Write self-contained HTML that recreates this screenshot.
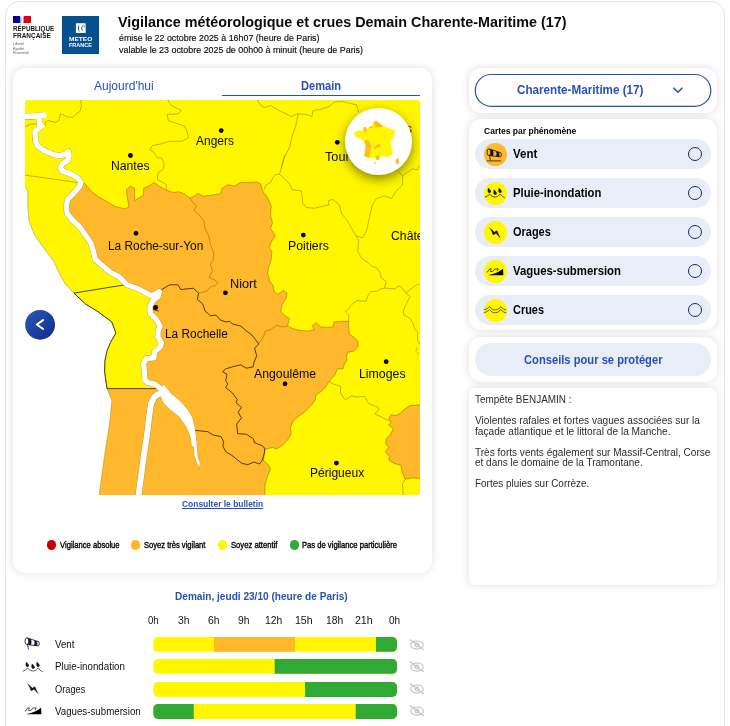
<!DOCTYPE html>
<html lang="fr"><head><meta charset="utf-8"><title>Vigilance</title>
<style>
html,body{margin:0;padding:0;background:#fff;width:730px;height:726px;overflow:hidden;}
body{position:relative;font-family:"Liberation Sans", sans-serif;}
#w{position:absolute;left:0;top:0;width:730px;height:726px;overflow:hidden;}
.t{position:absolute;white-space:nowrap;line-height:1;}
.abs{position:absolute;}
.card{position:absolute;background:#fff;border-radius:12px;box-shadow:0 0 9px rgba(0,0,0,.13);}
.pill{position:absolute;background:#e8edf7;border-radius:16px;}
.dot{position:absolute;border-radius:50%;}
.bar{position:absolute;left:153px;width:244.5px;height:14.6px;border-radius:6px;overflow:hidden;background:#fff600;}
.bar i{position:absolute;top:0;height:100%;}
</style></head><body><div id="w">
<div class="abs" style="left:5px;top:1px;width:718px;height:760px;border:1.4px solid #e4e4e4;border-radius:14px;"></div>

<div class="abs" style="left:13px;top:15.9px;width:7.4px;height:6.9px;background:#000091;"></div>
<div class="abs" style="left:23.9px;top:15.9px;width:7.2px;height:6.9px;background:#e1000f;"></div>
<svg class="abs" style="left:19px;top:15.9px" width="7" height="7" viewBox="0 0 7 7"><path d="M1.4 0 Q3 1.5 2.2 3.5 Q1.6 5.2 2.6 6.9 L1.4 6.9 Z" fill="#000091" opacity=".55"/><path d="M4.9 0 L4.9 6.9 L3.9 6.9 Q5 5 4.2 3.2 Q3.8 1.5 4.9 0Z" fill="#e1000f" opacity=".75"/><circle cx="2.3" cy="4" r=".9" fill="#9a9ad0" opacity=".7"/></svg>
<div class="abs" style="left:61.8px;top:15.9px;width:37.3px;height:38.1px;background:#05508f;"></div>
<svg class="abs" style="left:61.8px;top:15.9px" width="37.3" height="38.1" viewBox="61.8 15.9 37.3 38.1"><rect x="75.7" y="23.2" width="9.8" height="9.7" rx=".6" fill="#fff"/><path d="M83.2 24.6 A3.9 3.9 0 0 0 83.2 31.6 A6 6 0 0 1 83.2 24.6 Z" fill="#05508f"/><path d="M80.6 24.1 A4.3 4.3 0 0 0 80.6 32.2 A2.2 4.1 0 0 1 80.6 24.1Z" fill="#05508f"/><rect x="83.6" y="25.2" width=".7" height="2.2" fill="#05508f"/></svg>

<span class="t" style="left:13.00px;top:26px;font-size:6.4px;font-weight:700;color:#161616;transform:scaleX(0.9831);transform-origin:0 0;">RÉPUBLIQUE</span>
<span class="t" style="left:13.00px;top:33px;font-size:6.4px;font-weight:700;color:#161616;transform:scaleX(1.0139);transform-origin:0 0;">FRANÇAISE</span>
<span class="t" style="left:13.30px;top:43px;font-size:3.4px;font-weight:400;color:#555;transform:scaleX(1.0602);transform-origin:0 0;font-style:italic;">Liberté</span>
<span class="t" style="left:13.30px;top:48px;font-size:3.4px;font-weight:400;color:#555;transform:scaleX(1.0602);transform-origin:0 0;font-style:italic;">Égalité</span>
<span class="t" style="left:13.30px;top:52px;font-size:3.4px;font-weight:400;color:#555;transform:scaleX(1.1023);transform-origin:0 0;font-style:italic;">Fraternité</span>
<span class="t" style="left:68.70px;top:36px;font-size:6.2px;font-weight:700;color:#fff;transform:scaleX(1.0583);transform-origin:0 0;">METEO</span>
<span class="t" style="left:69.00px;top:42px;font-size:6.2px;font-weight:700;color:#fff;transform:scaleX(0.8921);transform-origin:0 0;">FRANCE</span>
<span class="t" style="left:118.30px;top:14px;font-size:15px;font-weight:700;color:#0a0a0a;transform:scaleX(0.9562);transform-origin:0 0;">Vigilance météorologique et crues Demain Charente-Maritime (17)</span>
<span class="t" style="left:118.50px;top:33px;font-size:9.6px;font-weight:400;color:#0a0a0a;transform:scaleX(0.9260);transform-origin:0 0;-webkit-text-stroke:.15px #0a0a0a;">émise le 22 octobre 2025 à 16h07 (heure de Paris)</span>
<span class="t" style="left:118.50px;top:45px;font-size:9.6px;font-weight:400;color:#0a0a0a;transform:scaleX(0.9280);transform-origin:0 0;-webkit-text-stroke:.15px #0a0a0a;">valable le 23 octobre 2025 de 00h00 à minuit (heure de Paris)</span>
<div class="card" style="left:13px;top:68px;width:418.5px;height:504.5px;"></div>
<span class="t" style="left:94.10px;top:80px;font-size:12px;font-weight:400;color:#2a50b8;transform:scaleX(1.0005);transform-origin:0 0;">Aujourd'hui</span>
<span class="t" style="left:300.90px;top:80px;font-size:12px;font-weight:700;color:#2a50b8;transform:scaleX(0.9225);transform-origin:0 0;">Demain</span>
<div class="abs" style="left:221.5px;top:94.6px;width:198.7px;height:1.4px;background:#2a50b8;"></div>
<div class="abs" style="left:25px;top:100px;width:395px;height:395px;border-radius:3px 3px 3px 0;overflow:hidden;background:#fff;">
<svg class="abs" style="left:0;top:0;" width="395" height="395" viewBox="25 100 395 395">
<rect x="25" y="100" width="395" height="395" fill="#fff600"/>
<path d="M84.2 182.8 L91.1 191.0 L98.0 196.5 L107.6 202.0 L114.5 206.2 L125.0 208.9 L129.1 206.9 L127.1 196.5 L126.4 189.6 L130.5 186.2 L134.6 188.3 L134.6 200.7 L138.8 197.9 L143.6 195.2 L143.6 188.3 L148.4 186.2 L153.9 182.5 L159.4 186.2 L166.3 190.3 L173.2 192.4 L178.7 191.7 L184.2 193.8 L189.7 197.9 L193.9 196.5 L198.0 193.3 L202.9 196.2 L212.5 195.0 L220.8 193.7 L222.2 188.2 L227.7 184.7 L234.6 186.1 L240.1 182.6 L248.4 182.6 L256.6 182.0 L260.8 184.0 L262.1 189.5 L264.2 193.8 L265.0 193.8 L268.4 199.3 L271.2 206.2 L270.5 215.8 L272.6 222.7 L270.5 228.2 L275.3 235.8 L271.2 242.0 L269.1 247.5 L271.9 251.6 L271.2 259.9 L268.4 268.2 L267.8 273.7 L269.7 281.3 L273.2 285.5 L273.9 291.0 L278.0 294.4 L283.5 290.3 L287.0 293.0 L286.3 297.9 L282.1 304.7 L280.8 311.6 L284.9 315.8 L289.4 318.5 L287.7 325.4 L291.9 328.2 L298.8 330.3 L308.4 331.0 L313.9 329.6 L312.5 325.5 L316.0 322.7 L320.8 326.9 L327.7 327.5 L333.2 326.9 L333.9 322.0 L340.1 321.3 L348.6 321.3 L348.6 327.5 L349.7 334.4 L353.9 337.2 L358.0 341.3 L358.0 346.8 L353.9 351.0 L347.7 352.3 L346.3 357.2 L347.0 359.9 L344.2 364.7 L342.9 368.9 L337.3 368.9 L335.3 374.4 L329.1 381.3 L324.9 388.2 L320.1 392.3 L316.0 395.0 L315.3 400.0 L311.0 405.5 L305.0 411.7 L300.0 415.2 L293.2 420.7 L290.4 427.5 L291.1 434.4 L287.6 439.9 L282.1 445.5 L276.6 448.9 L272.5 447.5 L267.0 448.9 L264.9 449.6 L263.5 460.6 L268.4 464.7 L270.4 468.9 L267.7 475.8 L264.9 485.4 L264.9 496.0 L98.9 496.0 L104.6 455.1 L109.7 422.6 L111.8 400.6 L107.0 388.6 L156.7 388.6 L160.1 388.2 L154.6 384.1 L147.7 382.7 L144.9 379.9 L144.3 371.7 L143.6 363.4 L146.3 358.6 L153.9 357.9 L154.6 351.7 L160.1 346.9 L161.5 342.6 L158.0 337.1 L158.0 331.6 L160.1 326.1 L156.0 319.2 L150.5 313.7 L149.8 307.5 L152.5 301.3 L158.0 296.5 L159.4 291.7 L151.8 295.8 L144.9 292.4 L136.7 288.2 L127.0 284.8 L118.7 276.4 L110.4 272.3 L102.1 265.4 L95.2 259.2 L93.9 253.0 L91.1 243.4 L85.6 235.1 L80.1 227.5 L71.8 219.3 L67.0 213.1 L66.3 206.2 L67.7 199.3 L74.6 192.4 L79.4 186.8 L80.8 182.6 Z" fill="#ffb82b"/>
<path d="M421.0 404.8 L410.1 405.5 L403.9 409.6 L399.7 413.8 L394.9 415.8 L391.5 414.5 L388.7 417.9 L390.8 422.7 L388.7 424.8 L393.5 428.9 L390.1 435.1 L386.0 439.3 L386.0 444.1 L388.7 447.5 L385.3 451.7 L389.4 456.5 L388.7 459.9 L394.2 463.4 L401.1 465.4 L401.8 471.6 L405.2 479.2 L412.1 477.8 L421.0 478.5 Z" fill="#ffb82b" stroke="rgba(90,60,0,.55)" stroke-width=".7"/>
<path d="M25.0 186.9 L27.8 191.0 L27.8 207.5 L29.1 221.3 L34.6 235.1 L44.3 248.9 L53.9 261.3 L58.1 271.0 L64.9 283.4 L73.9 293.1 L85.6 304.1 L98.0 311.7 L111.8 322.0 L115.9 333.0 L110.4 342.6 L107.0 350.9 L104.9 360.7 L104.6 371.7 L107.0 388.6 L111.8 400.6 L109.7 422.6 L104.6 455.1 L98.9 496.0 L24.0 496.0 L24.0 186.9 Z" fill="#fff"/>
<path d="M84.2 182.8 L91.1 191.0 L98.0 196.5 L107.6 202.0 L114.5 206.2 L125.0 208.9 L129.1 206.9 L127.1 196.5 L126.4 189.6 L130.5 186.2 L134.6 188.3 L134.6 200.7 L138.8 197.9 L143.6 195.2 L143.6 188.3 L148.4 186.2 L153.9 182.5 L159.4 186.2 L166.3 190.3 L173.2 192.4 L178.7 191.7 L184.2 193.8 L189.7 197.9 L193.9 196.5 L198.0 193.3 L202.9 196.2 L212.5 195.0 L220.8 193.7 L222.2 188.2 L227.7 184.7 L234.6 186.1 L240.1 182.6 L248.4 182.6 L256.6 182.0 L260.8 184.0 L262.1 189.5 L264.2 193.8 M265.0 193.8 L268.4 199.3 L271.2 206.2 L270.5 215.8 L272.6 222.7 L270.5 228.2 L275.3 235.8 L271.2 242.0 L269.1 247.5 L271.9 251.6 L271.2 259.9 L268.4 268.2 L267.8 273.7 L269.7 281.3 L273.2 285.5 L273.9 291.0 L278.0 294.4 L283.5 290.3 L287.0 293.0 L286.3 297.9 L282.1 304.7 L280.8 311.6 L284.9 315.8 L289.4 318.5 L287.7 325.4 L291.9 328.2 L298.8 330.3 L308.4 331.0 L313.9 329.6 L312.5 325.5 L316.0 322.7 L320.8 326.9 L327.7 327.5 L333.2 326.9 L333.9 322.0 L340.1 321.3 L348.6 321.3 L348.6 327.5 L349.7 334.4 L353.9 337.2 L358.0 341.3 L358.0 346.8 L353.9 351.0 L347.7 352.3 L346.3 357.2 L347.0 359.9 L344.2 364.7 L342.9 368.9 L337.3 368.9 L335.3 374.4 L329.1 381.3 L324.9 388.2 L320.1 392.3 L316.0 395.0 L315.3 400.0 L311.0 405.5 L305.0 411.7 L300.0 415.2 L293.2 420.7 L290.4 427.5 L291.1 434.4 L287.6 439.9 L282.1 445.5 L276.6 448.9 L272.5 447.5 L267.0 448.9 L264.9 449.6 L263.5 460.6 L268.4 464.7 L270.4 468.9 L267.7 475.8 L264.9 485.4 L264.9 496.0" fill="none" stroke="rgba(90,60,0,.5)" stroke-width=".7" stroke-linejoin="round"/>
<path d="M25.0 186.9 L27.8 191.0 L27.8 207.5 L29.1 221.3 L34.6 235.1 L44.3 248.9 L53.9 261.3 L58.1 271.0 L64.9 283.4 L73.9 293.1 L85.6 304.1 L98.0 311.7 L111.8 322.0 L115.9 333.0 L110.4 342.6 L107.0 350.9 L104.9 360.7 L104.6 371.7 L107.0 388.6 L111.8 400.6 L109.7 422.6 L104.6 455.1 L98.9 496.0" fill="none" stroke="rgba(90,80,0,.45)" stroke-width=".7"/>
<path d="M44.8 126.8 L45.2 122.3 L48.1 120.6 L55.5 122.3 L58.8 120.6 L60.5 114.0 L63.0 114.4 L66.3 116.9 L72.9 117.3 L77.0 113.2 L80.0 111.5 L81.5 105.5 L80.8 100.0" fill="none" stroke="rgba(80,60,0,.5)" stroke-width=".7" stroke-linejoin="round"/>
<path d="M25.0 126.8 L30.7 124.1 L36.4 123.9" fill="none" stroke="rgba(80,60,0,.5)" stroke-width=".7" stroke-linejoin="round"/>
<path d="M25.0 119.8 L36.1 118.4" fill="none" stroke="rgba(80,60,0,.5)" stroke-width=".7" stroke-linejoin="round"/>
<path d="M25.0 175.1 L78.0 182.6" fill="none" stroke="rgba(80,60,0,.5)" stroke-width=".7" stroke-linejoin="round"/>
<path d="M167.7 100.0 L171.1 105.5 L181.4 110.3 L178.0 113.8 L167.0 114.5 L168.4 120.7 L176.6 123.4 L184.9 126.2 L187.6 133.1 L188.3 137.9 L182.1 141.3 L169.7 141.3 L160.1 144.1 L152.5 145.5 L149.8 149.6 L153.9 152.3 L157.3 157.9 L161.5 157.9 L164.2 163.4 L163.5 168.9 L158.0 173.0 L157.3 179.2 L162.9 182.6 L166.3 184.6 L166.3 190.3" fill="none" stroke="rgba(80,60,0,.5)" stroke-width=".7" stroke-linejoin="round"/>
<path d="M189.7 197.9 L192.5 202.0 L196.6 206.2 L193.9 210.3 L200.1 215.8 L204.2 221.3 L204.9 228.2 L209.0 236.5 L210.4 244.7 L213.8 253.0 L213.2 259.9 L210.4 264.0 L212.5 270.9 L209.1 277.2 L214.6 279.9 L218.1 282.7 L215.3 285.5 L210.5 286.8 L207.1 291.0 L198.7 293.1" fill="none" stroke="rgba(80,60,0,.5)" stroke-width=".7" stroke-linejoin="round"/>
<path d="M287.6 326.1 L282.1 326.8 L276.6 325.4 L269.7 330.2 L265.6 330.9 L263.5 336.4 L258.7 344.1" fill="none" stroke="rgba(80,60,0,.5)" stroke-width=".7" stroke-linejoin="round"/>
<path d="M257.3 100.0 L260.1 104.8 L264.9 107.6 L270.5 105.5 L278.8 110.3 L291.2 116.5 L298.1 113.8 L306.3 114.5 L311.8 116.5 L313.2 110.3 L320.1 109.6 L329.7 106.2 L333.9 102.1 L342.1 101.4 L353.2 104.1 L356.6 104.8 L358.7 112.4" fill="none" stroke="rgba(80,60,0,.5)" stroke-width=".7" stroke-linejoin="round"/>
<path d="M298.1 113.8 L296.0 124.8 L291.9 137.2 L289.8 146.8 L284.3 157.9 L281.5 167.5 L279.5 174.4 L276.0 174.4 L273.2 177.1 L270.4 182.6 L265.6 185.4 L264.2 189.5" fill="none" stroke="rgba(80,60,0,.5)" stroke-width=".7" stroke-linejoin="round"/>
<path d="M285.0 155.1 L282.8 160.6 L281.5 167.5" fill="none" stroke="rgba(80,60,0,.5)" stroke-width=".7" stroke-linejoin="round"/>
<path d="M279.5 174.4 L284.3 178.5 L289.8 184.1 L291.9 189.6 L301.5 191.0 L302.9 203.4 L306.3 207.5 L314.6 208.2 L322.9 206.2 L329.0 204.8 L328.4 200.7 L332.5 199.3 L339.4 204.8 L341.4 213.1 L347.6 221.3 L353.2 231.0 L355.9 235.8 L362.5 237.8" fill="none" stroke="rgba(80,60,0,.5)" stroke-width=".7" stroke-linejoin="round"/>
<path d="M355.9 235.8 L358.7 240.6 L357.7 251.0 L361.2 257.9 L368.1 262.7 L371.5 266.2 L376.3 267.5 L380.5 273.1 L381.1 277.9 L386.0 281.3 L384.6 288.2" fill="none" stroke="rgba(80,60,0,.5)" stroke-width=".7" stroke-linejoin="round"/>
<path d="M362.5 237.8 L366.7 230.2 L369.4 217.9 L372.2 205.5 L376.3 198.6 L384.6 195.8 L391.5 198.6 L395.6 191.7 L402.5 184.8 L402.5 175.8 L397.0 169.6" fill="none" stroke="rgba(80,60,0,.5)" stroke-width=".7" stroke-linejoin="round"/>
<path d="M402.5 175.8 L412.1 169.0 L417.6 169.6 L420.0 165.5" fill="none" stroke="rgba(80,60,0,.5)" stroke-width=".7" stroke-linejoin="round"/>
<path d="M384.6 288.2 L380.5 288.9 L377.7 291.0 L370.8 291.7 L368.1 295.1 L366.0 301.3 L357.0 300.6 L351.5 304.7 L348.8 308.9 L345.3 311.6 L348.8 315.1 L348.8 321.3" fill="none" stroke="rgba(80,60,0,.5)" stroke-width=".7" stroke-linejoin="round"/>
<path d="M384.6 288.2 L395.6 288.9 L397.7 286.1 L401.1 286.8 L405.9 293.0 L410.1 296.5 L406.6 303.4 L403.2 310.2 L403.9 315.1 L410.1 318.5 L413.5 324.0 L414.2 328.2 L417.6 332.4 L417.6 340.7 L420.0 344.8" fill="none" stroke="rgba(80,60,0,.5)" stroke-width=".7" stroke-linejoin="round"/>
<path d="M405.9 293.0 L412.1 288.2 L417.6 284.1 L420.0 285.5" fill="none" stroke="rgba(80,60,0,.5)" stroke-width=".7" stroke-linejoin="round"/>
<path d="M417.6 347.5 L415.6 351.0 L419.0 354.4" fill="none" stroke="rgba(80,60,0,.5)" stroke-width=".7" stroke-linejoin="round"/>
<path d="M329.1 381.3 L333.2 384.0 L340.5 386.1 L340.5 393.0 L345.3 399.9 L351.5 395.8 L356.4 397.1 L364.6 396.4 L368.1 402.6 L369.4 404.1 L377.7 406.9 L379.1 409.6 L374.9 413.8 L381.8 417.2 L388.7 420.7" fill="none" stroke="rgba(80,60,0,.5)" stroke-width=".7" stroke-linejoin="round"/>
<path d="M405.2 479.2 L402.5 484.0 L403.2 495.0" fill="none" stroke="rgba(80,60,0,.5)" stroke-width=".7" stroke-linejoin="round"/>
<path d="M161.5 289.6 L169.7 284.8 L178.0 284.8 L180.8 289.6 L193.2 288.2 L198.7 293.1 L197.3 299.3 L202.8 304.1 L205.0 310.9 L210.5 315.8 L216.0 315.1 L220.2 319.9 L225.7 322.0 L229.8 321.3 L232.5 324.0 L240.8 326.1 L246.3 330.9 L251.8 335.0 L255.3 339.3 L258.7 344.1 L254.6 348.2 L256.7 355.8 L253.9 362.7 L253.2 366.8 L246.3 368.2 L240.8 364.8 L232.5 366.8 L225.7 368.9 L222.6 371.7 L227.0 374.4 L225.7 380.6 L227.7 384.1 L225.7 387.5 L232.5 393.0 L237.4 399.9 L236.0 402.6 L241.5 407.5 L238.1 412.3 L241.5 417.9 L236.7 424.1 L237.6 433.7 L246.3 434.2 L253.2 438.6 L254.6 442.7 L261.5 445.5 L264.9 448.2 L264.2 453.7 L262.2 460.6 L259.4 464.0 L253.9 462.0 L247.7 464.7 L242.2 463.4 L237.4 459.9 L232.5 455.8 L225.7 451.7 L222.9 446.1 L223.6 441.3 L220.8 436.5 L213.3 435.1 L207.8 431.7 L194.9 430.3 M125.0 284.8 L73.9 293.1 L85.6 304.1 L98.0 311.7 L111.8 322.0 L115.9 333.0 L110.4 342.6 L107.0 350.9 L104.9 360.7 L104.6 371.7 L107.0 388.6 L156.7 388.6 M161.5 289.6 L157.5 295.0 L153.2 303.8 L153.2 309.5 L158.5 311.0" fill="none" stroke="rgba(30,20,0,.85)" stroke-width=".9" stroke-linejoin="round"/>
<path d="M160.5 392.0 L161.0 396.5 L163.4 402.5 L170.0 409.2 L179.3 416.5 L186.8 427.3 L190.6 436.5 L191.9 445.2 L194.3 447.5 L194.3 455.1 L196.3 460.6 L199.1 467.5 L199.1 467.5 L199.8 462.7 L197.7 457.9 L197.0 449.6 L196.3 441.3 L194.9 428.9 L192.2 417.5 L186.7 408.5 L179.4 400.6 L171.1 393.7 L165.6 386.8 L163.0 385.0 Z" fill="#fff" stroke="rgba(90,70,20,.5)" stroke-width=".5"/>
<path d="M39.0 116.0 L39.2 119.0 L39.4 123.9 L39.6 127.3 L34.9 131.4 L35.3 136.3 L35.7 141.3 L37.8 145.8 L43.1 150.0 L48.1 152.3 L53.9 154.6 L59.4 155.8 L64.9 154.4 L68.4 151.7 L69.1 155.1 L67.7 160.6 L62.9 163.4 L60.5 167.5 L62.2 170.9 L67.7 173.0 L73.2 175.1 L78.0 178.5 L80.8 182.6 L79.4 186.8 L74.6 192.4 L67.7 199.3 L66.3 206.2 L67.0 213.1 L71.8 219.3 L80.1 227.5 L85.6 235.1 L91.1 243.4 L93.9 253.0 L95.2 259.2 L102.1 265.4 L110.4 272.3 L118.7 276.4 L127.0 284.8 L136.7 288.2 L144.9 292.4 L151.8 295.8 L159.4 291.7 L158.0 296.5 L152.5 301.3 L149.8 307.5 L150.5 313.7 L156.0 319.2 L160.1 326.1 L158.0 331.6 L158.0 337.1 L161.5 342.6 L160.1 346.9 L154.6 351.7 L153.9 357.9 L146.3 358.6 L143.6 363.4 L144.3 371.7 L144.9 379.9 L147.7 382.7 L154.6 384.1 L160.1 388.2 L164.2 392.3" fill="none" stroke="rgba(110,100,40,.55)" stroke-width="6.0" stroke-linejoin="round" stroke-linecap="butt"/>
<path d="M24.0 116.6 L34.9 116.0 L43.6 115.3" fill="none" stroke="rgba(110,100,40,.55)" stroke-width="6.7" stroke-linejoin="round" stroke-linecap="butt"/>
<path d="M162.5 393.2 L158.5 394.2 L154.6 396.5 L151.1 403.4 L149.1 417.1 L147.7 429.5 L146.3 440.0 L143.9 455.1 L138.4 496.0" fill="none" stroke="rgba(110,100,40,.55)" stroke-width="6.7" stroke-linejoin="round" stroke-linecap="butt"/>
<path d="M39.0 116.0 L39.2 119.0 L39.4 123.9 L39.6 127.3 L34.9 131.4 L35.3 136.3 L35.7 141.3 L37.8 145.8 L43.1 150.0 L48.1 152.3 L53.9 154.6 L59.4 155.8 L64.9 154.4 L68.4 151.7 L69.1 155.1 L67.7 160.6 L62.9 163.4 L60.5 167.5 L62.2 170.9 L67.7 173.0 L73.2 175.1 L78.0 178.5 L80.8 182.6 L79.4 186.8 L74.6 192.4 L67.7 199.3 L66.3 206.2 L67.0 213.1 L71.8 219.3 L80.1 227.5 L85.6 235.1 L91.1 243.4 L93.9 253.0 L95.2 259.2 L102.1 265.4 L110.4 272.3 L118.7 276.4 L127.0 284.8 L136.7 288.2 L144.9 292.4 L151.8 295.8 L159.4 291.7 L158.0 296.5 L152.5 301.3 L149.8 307.5 L150.5 313.7 L156.0 319.2 L160.1 326.1 L158.0 331.6 L158.0 337.1 L161.5 342.6 L160.1 346.9 L154.6 351.7 L153.9 357.9 L146.3 358.6 L143.6 363.4 L144.3 371.7 L144.9 379.9 L147.7 382.7 L154.6 384.1 L160.1 388.2 L164.2 392.3" fill="none" stroke="#fff" stroke-width="5.3" stroke-linejoin="round" stroke-linecap="round"/>
<path d="M24.0 116.6 L34.9 116.0 L43.6 115.3" fill="none" stroke="#fff" stroke-width="6.0" stroke-linejoin="round" stroke-linecap="round"/>
<path d="M162.5 393.2 L158.5 394.2 L154.6 396.5 L151.1 403.4 L149.1 417.1 L147.7 429.5 L146.3 440.0 L143.9 455.1 L138.4 496.0" fill="none" stroke="#fff" stroke-width="6.0" stroke-linejoin="round" stroke-linecap="round"/>
<path d="M160.5 392.0 L161.0 396.5 L163.4 402.5 L170.0 409.2 L179.3 416.5 L186.8 427.3 L190.6 436.5 L191.9 445.2 L194.3 447.5 L194.3 455.1 L196.3 460.6 L199.1 467.5 L199.1 467.5 L199.8 462.7 L197.7 457.9 L197.0 449.6 L196.3 441.3 L194.9 428.9 L192.2 417.5 L186.7 408.5 L179.4 400.6 L171.1 393.7 L165.6 386.8 L163.0 385.0 Z" fill="#fff"/>
<path d="M41 121 L45.2 126.6 L38 131.2 Z" fill="#fff"/>
<circle cx="130.5" cy="155.5" r="2.4" fill="#000"/>
<circle cx="221.2" cy="130.6" r="2.4" fill="#000"/>
<circle cx="337.3" cy="142.3" r="2.4" fill="#000"/>
<circle cx="136" cy="233.3" r="2.4" fill="#000"/>
<circle cx="303.3" cy="235.1" r="2.4" fill="#000"/>
<circle cx="225.4" cy="292.8" r="2.4" fill="#000"/>
<circle cx="155.7" cy="307.5" r="2.4" fill="#000"/>
<circle cx="285" cy="383.8" r="2.4" fill="#000"/>
<circle cx="386.2" cy="361.7" r="2.4" fill="#000"/>
<circle cx="336.4" cy="463.1" r="2.4" fill="#000"/>
</svg>
<div class="abs" style="left:-25px;top:-100px;width:0;height:0;">
<span class="t" style="left:110.50px;top:160px;font-size:12px;font-weight:400;color:#0a0a0a;transform:scaleX(1.0150);transform-origin:0 0;">Nantes</span>
<span class="t" style="left:196.00px;top:135px;font-size:12px;font-weight:400;color:#0a0a0a;transform:scaleX(0.9965);transform-origin:0 0;">Angers</span>
<span class="t" style="left:324.50px;top:151px;font-size:12px;font-weight:400;color:#0a0a0a;transform:scaleX(1.0564);transform-origin:0 0;">Tours</span>
<span class="t" style="left:108.10px;top:240px;font-size:12px;font-weight:400;color:#0a0a0a;transform:scaleX(0.9898);transform-origin:0 0;">La Roche-sur-Yon</span>
<span class="t" style="left:287.50px;top:240px;font-size:12px;font-weight:400;color:#0a0a0a;transform:scaleX(1.0221);transform-origin:0 0;">Poitiers</span>
<span class="t" style="left:391.10px;top:230px;font-size:12px;font-weight:400;color:#0a0a0a;transform:scaleX(1.0186);transform-origin:0 0;">Châteauroux</span>
<span class="t" style="left:229.80px;top:278px;font-size:12px;font-weight:400;color:#0a0a0a;transform:scaleX(1.0614);transform-origin:0 0;">Niort</span>
<span class="t" style="left:164.70px;top:328px;font-size:12px;font-weight:400;color:#0a0a0a;transform:scaleX(0.9909);transform-origin:0 0;">La Rochelle</span>
<span class="t" style="left:253.60px;top:368px;font-size:12px;font-weight:400;color:#0a0a0a;transform:scaleX(1.0227);transform-origin:0 0;">Angoulême</span>
<span class="t" style="left:359.40px;top:368px;font-size:12px;font-weight:400;color:#0a0a0a;transform:scaleX(1.0274);transform-origin:0 0;">Limoges</span>
<span class="t" style="left:310.10px;top:467px;font-size:12px;font-weight:400;color:#0a0a0a;transform:scaleX(1.0028);transform-origin:0 0;">Périgueux</span>
<span class="t" style="left:385.20px;top:123px;font-size:12px;font-weight:400;color:#0a0a0a;transform:scaleX(1.0378);transform-origin:0 0;">Blois</span>
</div>
</div>
<div class="dot" style="left:345.2px;top:108.2px;width:66.6px;height:66.6px;background:#fff;box-shadow:0 4px 11px rgba(40,40,0,.55);"></div>
<svg class="abs" style="left:343px;top:106px;filter:blur(.35px)" width="72" height="72" viewBox="343 106 72 72">
<polygon points="354.11,133.78 355.90,131.60 359.87,130.80 363.34,130.80 363.63,127.33 365.32,127.03 366.81,129.81 368.99,127.33 372.76,125.84 373.75,121.87 376.23,121.08 379.71,123.86 382.68,125.84 386.65,127.33 390.62,129.31 394.59,130.80 394.09,134.77 392.60,138.74 389.63,142.71 391.12,145.68 391.61,149.65 392.60,152.63 390.62,155.60 386.65,156.60 382.68,155.60 379.71,156.60 379.21,159.57 376.23,159.57 375.74,157.09 371.77,157.59 367.80,157.59 364.33,156.10 365.32,150.64 365.82,145.68 364.33,141.71 361.85,139.23 358.87,137.75 355.40,136.26" fill="#fff600" stroke="#fff600" stroke-width=".8" stroke-linejoin="round"/>
<polygon points="373.95,121.87 376.23,121.08 379.71,123.86 382.68,125.84 381.69,127.33 377.72,127.33 374.75,126.34" fill="#ffb82b"/>
<polygon points="369.29,127.33 372.76,126.04 372.96,127.33 369.79,128.42" fill="#ffb82b"/>
<polygon points="363.63,127.33 365.32,127.03 366.81,129.81 366.31,132.79 364.33,132.29" fill="#ffb82b"/>
<polygon points="364.33,140.23 368.79,140.23 370.28,143.70 371.77,146.67 369.79,150.64 369.29,157.59 364.33,156.10 365.32,150.64 365.82,145.68" fill="#ffb82b"/>
<polygon points="373.75,147.17 376.73,145.19 378.71,143.70 381.19,145.68 379.71,147.17 376.23,147.67 375.24,149.15" fill="#ffb82b"/>
<polygon points="375.74,156.10 378.71,155.60 379.21,159.57 376.23,159.57" fill="#ffb82b"/>
<polygon points="374.15,162.35 375.74,162.35 375.74,163.54 374.15,163.54" fill="#ffb82b"/>
<polygon points="395.38,160.07 398.06,157.59 399.05,161.06 398.06,164.53 396.08,163.54" fill="#ffb82b"/>
</svg>
<svg class="abs" style="left:20px;top:304px" width="40" height="40" viewBox="20 304 40 40"><defs><linearGradient id="bg" x1="0" y1="0" x2="1" y2="1"><stop offset="0" stop-color="#2a58b8"/><stop offset="1" stop-color="#0d2c88"/></linearGradient></defs><circle cx="40.1" cy="324.8" r="14.9" fill="url(#bg)"/><path d="M43.1 320.1 L36.8 324.5 L43.1 329" fill="none" stroke="#fff" stroke-width="2.1" stroke-linecap="round" stroke-linejoin="round"/></svg>
<span class="t" style="left:181.70px;top:500px;font-size:9.3px;font-weight:700;color:#2a50b8;transform:scaleX(0.9085);transform-origin:0 0;text-decoration:underline;">Consulter le bulletin</span>
<div class="dot" style="left:46.7px;top:540.4px;width:9.4px;height:9.4px;background:#cc0000;"></div>
<div class="dot" style="left:130.9px;top:540.4px;width:9.4px;height:9.4px;background:#ffb82b;"></div>
<div class="dot" style="left:218.1px;top:540.4px;width:9.4px;height:9.4px;background:#fff600;"></div>
<div class="dot" style="left:289.5px;top:540.4px;width:9.4px;height:9.4px;background:#31aa35;"></div>
<span class="t" style="left:59.80px;top:541px;font-size:8.5px;font-weight:400;color:#000;transform:scaleX(0.8965);transform-origin:0 0;-webkit-text-stroke:0.35px #000;">Vigilance absolue</span>
<span class="t" style="left:144.40px;top:541px;font-size:8.5px;font-weight:400;color:#000;transform:scaleX(0.8901);transform-origin:0 0;-webkit-text-stroke:0.35px #000;">Soyez très vigilant</span>
<span class="t" style="left:230.90px;top:541px;font-size:8.5px;font-weight:400;color:#000;transform:scaleX(0.9007);transform-origin:0 0;-webkit-text-stroke:0.35px #000;">Soyez attentif</span>
<span class="t" style="left:302.40px;top:541px;font-size:8.5px;font-weight:400;color:#000;transform:scaleX(0.8975);transform-origin:0 0;-webkit-text-stroke:0.35px #000;">Pas de vigilance particulière</span>
<div class="card" style="left:468.7px;top:68px;width:248.5px;height:44.8px;border-radius:12px;"></div>
<svg class="abs" style="left:470px;top:70px" width="246" height="41" viewBox="470 70 246 41"><rect x="475.3" y="74.5" width="235.5" height="31.8" rx="15.9" fill="#fff" stroke="#2a50b8" stroke-width="1.2"/></svg>
<span class="t" style="left:517.30px;top:84px;font-size:12px;font-weight:700;color:#2a50b8;transform:scaleX(0.9728);transform-origin:0 0;">Charente-Maritime (17)</span>
<svg class="abs" style="left:671px;top:85px;" width="14" height="10" viewBox="0 0 14 10"><path d="M2.9 3.2 L6.9 7.2 L10.9 3.2" fill="none" stroke="#2a50b8" stroke-width="1.6" stroke-linecap="round" stroke-linejoin="round"/></svg>
<div class="card" style="left:468.7px;top:119px;width:248.5px;height:211.3px;border-radius:12px;"></div>
<span class="t" style="left:483.90px;top:126px;font-size:9.4px;font-weight:700;color:#000;transform:scaleX(0.9075);transform-origin:0 0;">Cartes par phénomène</span>
<div class="pill" style="left:475px;top:139.0px;width:236.2px;height:29.9px;"></div>
<div class="dot" style="left:483.95px;top:142.90px;width:23px;height:23px;background:#ffb82b;"></div>
<span class="t" style="left:513.00px;top:148px;font-size:12.6px;font-weight:700;color:#050505;transform:scaleX(0.9132);transform-origin:0 0;">Vent</span>
<div class="dot" style="left:687.5px;top:146.7px;width:12.4px;height:12.4px;border:1px solid #17277a;"></div>
<div class="pill" style="left:475px;top:178.0px;width:236.2px;height:29.9px;"></div>
<div class="dot" style="left:483.95px;top:181.90px;width:23px;height:23px;background:#fff600;"></div>
<span class="t" style="left:513.00px;top:187px;font-size:12.6px;font-weight:700;color:#050505;transform:scaleX(0.8960);transform-origin:0 0;">Pluie-inondation</span>
<div class="dot" style="left:687.5px;top:185.7px;width:12.4px;height:12.4px;border:1px solid #17277a;"></div>
<div class="pill" style="left:475px;top:217.0px;width:236.2px;height:29.9px;"></div>
<div class="dot" style="left:483.95px;top:220.90px;width:23px;height:23px;background:#fff600;"></div>
<span class="t" style="left:513.00px;top:226px;font-size:12.6px;font-weight:700;color:#050505;transform:scaleX(0.8708);transform-origin:0 0;">Orages</span>
<div class="dot" style="left:687.5px;top:224.7px;width:12.4px;height:12.4px;border:1px solid #17277a;"></div>
<div class="pill" style="left:475px;top:256.0px;width:236.2px;height:29.9px;"></div>
<div class="dot" style="left:483.95px;top:259.90px;width:23px;height:23px;background:#fff600;"></div>
<span class="t" style="left:513.00px;top:265px;font-size:12.6px;font-weight:700;color:#050505;transform:scaleX(0.9023);transform-origin:0 0;">Vagues-submersion</span>
<div class="dot" style="left:687.5px;top:263.7px;width:12.4px;height:12.4px;border:1px solid #17277a;"></div>
<div class="pill" style="left:475px;top:295.0px;width:236.2px;height:29.9px;"></div>
<div class="dot" style="left:483.95px;top:298.90px;width:23px;height:23px;background:#fff600;"></div>
<span class="t" style="left:513.00px;top:304px;font-size:12.6px;font-weight:700;color:#050505;transform:scaleX(0.8683);transform-origin:0 0;">Crues</span>
<div class="dot" style="left:687.5px;top:302.7px;width:12.4px;height:12.4px;border:1px solid #17277a;"></div>
<svg width="0" height="0" style="position:absolute"><defs>
<g id="i-vent"><g fill="none" stroke="#14142a" stroke-width=".85" stroke-linejoin="round"><ellipse cx="-6.1" cy="-2.8" rx="1.9" ry="3.3"/><path d="M-6.1 -6.1 L5.9 -2.2 Q7 -0.2 5.6 1.9 L-6.1 0.5"/><path d="M-5.4 0.5 L-4.6 5.4" stroke-width=".8"/></g><path d="M-4.7 -5.65 L-2.0 -4.75 Q-0.9 -2 -2.0 0.95 L-4.7 0.65 Q-3.4 -2.6 -4.7 -5.65 Z M1.0 -3.8 L3.9 -2.85 Q4.9 -0.6 3.9 1.7 L1.0 1.3 Q2.1 -1.2 1.0 -3.8 Z" fill="#14142a"/></g>
<g id="i-ventbase"><path d="M-8.3 5.9 L6.2 5.9" stroke="#14142a" stroke-width=".75" fill="none"/></g>
<g id="i-pluie"><g fill="#14142a"><path d="M-7.0 -5.3 Q-3.5 -2.6 -4.1 -1.0 Q-5.2 0.5 -6.8 -0.5 Q-7.8 -1.6 -7.0 -5.3 Z"/><path d="M-1.2 -3.4 Q2.3 -0.7 1.7 0.9 Q0.6 2.4 -1.0 1.4 Q-2.0 0.3 -1.2 -3.4 Z"/><path d="M3.7 -5.3 Q7.2 -2.6 6.6 -1.0 Q5.5 0.5 3.9 -0.5 Q2.9 -1.6 3.7 -5.3 Z"/></g><path d="M-10.2 4.1 Q-7 3.6 -5.4 1.0 Q-3 4.3 -0.1 4.0 Q3 4.3 5.2 1.0 Q7 3.8 9.8 4.8" fill="none" stroke="#14142a" stroke-width=".7"/></g>
<g id="i-orage"><path d="M-5.44 -5.34 L-2.17 -2.41 L-0.79 -0.69 L1.27 -2.24 L2.31 -1.72 L3.34 1.03 L5.23 4.65 L2.31 1.72 L1.10 0.17 L-1.14 1.72 L-2.17 1.38 L-3.20 -1.38 Z" fill="#14142a" stroke="#14142a" stroke-width=".3" stroke-linejoin="round"/></g>
<g id="i-vague"><path d="M-6.13 2.93 Q2 1.6 8.16 -3.27 L8.33 3.2 L-6.13 3.27 Z" fill="#000"/><path d="M-8.2 0.2 Q-6.9 -0.1 -6.5 -1.2 Q-6.1 -2.9 -5.2 -3.0 L-3.7 -3.2 Q-4.2 -1.6 -4.5 -0.5 L-2.4 -0.5 Q-1.5 -0.8 -1.1 -1.8 Q-0.8 -2.9 0 -3.0 L3.2 -3.2 Q2.7 -1.9 2.2 -0.9" fill="none" stroke="#14142a" stroke-width=".75" stroke-linejoin="round"/></g>
<g id="i-crue"><path id="cw" d="M-11.2 -0.2 Q-7.5 -1 -5.4 -3.3 Q-3 0 -0.1 0 Q3 0 5.7 -3.1 Q8 -0.6 11.3 0" fill="none" stroke="#14142a" stroke-width=".65"/><path d="M-11.2 2.7 Q-7.5 1.9 -5.4 -0.4 Q-3 2.9 -0.1 2.9 Q3 2.9 5.7 -0.2 Q8 2.3 11.3 2.9" fill="none" stroke="#14142a" stroke-width=".65"/></g>
<g id="i-eye" fill="none" stroke="#c0c0c0" stroke-width="1.05"><ellipse cx="0" cy="0" rx="6.3" ry="4.1"/><circle cx="0" cy="0" r="1.9"/><path d="M-7.1 -5.5 L7 5.1" stroke-width="1.15"/></g>
</defs></svg>
<svg class="abs" style="left:483.45px;top:142.50px;overflow:visible" width="24" height="24" viewBox="-12 -12 24 24"><use href="#i-vent"/></svg>
<svg class="abs" style="left:483.45px;top:142.50px;overflow:visible" width="24" height="24" viewBox="-12 -12 24 24"><use href="#i-ventbase"/></svg>
<svg class="abs" style="left:483.45px;top:181.40px;overflow:visible" width="24" height="24" viewBox="-12 -12 24 24"><use href="#i-pluie"/></svg>
<svg class="abs" style="left:483.45px;top:220.50px;overflow:visible" width="24" height="24" viewBox="-12 -12 24 24"><use href="#i-orage"/></svg>
<svg class="abs" style="left:483.45px;top:259.50px;overflow:visible" width="24" height="24" viewBox="-12 -12 24 24"><use href="#i-vague"/></svg>
<svg class="abs" style="left:483.45px;top:298.40px;overflow:visible" width="24" height="24" viewBox="-12 -12 24 24"><use href="#i-crue"/></svg>
<div class="card" style="left:468.7px;top:337.2px;width:248.5px;height:44.4px;border-radius:12px;"></div>
<div class="pill" style="left:475px;top:343.3px;width:236.2px;height:32.3px;border-radius:17px;"></div>
<span class="t" style="left:523.80px;top:354px;font-size:12.6px;font-weight:700;color:#2a50b8;transform:scaleX(0.8875);transform-origin:0 0;">Conseils pour se protéger</span>
<div class="card" style="left:468.7px;top:387.7px;width:248.2px;height:197.6px;border-radius:6px;"></div>
<span class="t" style="left:475.30px;top:395px;font-size:10px;font-weight:400;color:#2b2b2b;transform:scaleX(0.9921);transform-origin:0 0;">Tempête BENJAMIN :</span>
<span class="t" style="left:475.30px;top:416px;font-size:10px;font-weight:400;color:#2b2b2b;transform:scaleX(1.0127);transform-origin:0 0;">Violentes rafales et fortes vagues associées sur la</span>
<span class="t" style="left:475.30px;top:427px;font-size:10px;font-weight:400;color:#2b2b2b;transform:scaleX(1.0134);transform-origin:0 0;">façade atlantique et le littoral de la Manche.</span>
<span class="t" style="left:475.30px;top:448px;font-size:10px;font-weight:400;color:#2b2b2b;transform:scaleX(1.0053);transform-origin:0 0;">Très forts vents également sur Massif-Central, Corse</span>
<span class="t" style="left:475.30px;top:458px;font-size:10px;font-weight:400;color:#2b2b2b;transform:scaleX(0.9989);transform-origin:0 0;">et dans le domaine de la Tramontane.</span>
<span class="t" style="left:475.30px;top:479px;font-size:10px;font-weight:400;color:#2b2b2b;transform:scaleX(0.9935);transform-origin:0 0;">Fortes pluies sur Corrèze.</span>
<span class="t" style="left:174.90px;top:592px;font-size:10.2px;font-weight:700;color:#2a50b8;transform:scaleX(0.9903);transform-origin:0 0;">Demain, jeudi 23/10 (heure de Paris)</span>
<span class="t" style="left:148.20px;top:616px;font-size:10.2px;font-weight:400;color:#111;transform:scaleX(0.9433);transform-origin:0 0;">0h</span>
<span class="t" style="left:177.80px;top:616px;font-size:10.2px;font-weight:400;color:#111;transform:scaleX(1.0138);transform-origin:0 0;">3h</span>
<span class="t" style="left:207.80px;top:616px;font-size:10.2px;font-weight:400;color:#111;transform:scaleX(1.0138);transform-origin:0 0;">6h</span>
<span class="t" style="left:237.80px;top:616px;font-size:10.2px;font-weight:400;color:#111;transform:scaleX(1.0138);transform-origin:0 0;">9h</span>
<span class="t" style="left:265.40px;top:616px;font-size:10.2px;font-weight:400;color:#111;transform:scaleX(1.0118);transform-origin:0 0;">12h</span>
<span class="t" style="left:295.40px;top:616px;font-size:10.2px;font-weight:400;color:#111;transform:scaleX(1.0353);transform-origin:0 0;">15h</span>
<span class="t" style="left:325.80px;top:616px;font-size:10.2px;font-weight:400;color:#111;transform:scaleX(1.0118);transform-origin:0 0;">18h</span>
<span class="t" style="left:355.40px;top:616px;font-size:10.2px;font-weight:400;color:#111;transform:scaleX(1.0353);transform-origin:0 0;">21h</span>
<span class="t" style="left:389.00px;top:616px;font-size:10.2px;font-weight:400;color:#111;transform:scaleX(0.9873);transform-origin:0 0;">0h</span>
<span class="t" style="left:55.20px;top:640px;font-size:10px;font-weight:400;color:#111;transform:scaleX(0.9735);transform-origin:0 0;">Vent</span>
<span class="t" style="left:55.20px;top:662px;font-size:10px;font-weight:400;color:#111;transform:scaleX(0.9746);transform-origin:0 0;">Pluie-inondation</span>
<span class="t" style="left:55.20px;top:685px;font-size:10px;font-weight:400;color:#111;transform:scaleX(0.9269);transform-origin:0 0;">Orages</span>
<span class="t" style="left:55.20px;top:707px;font-size:10px;font-weight:400;color:#111;transform:scaleX(0.9716);transform-origin:0 0;">Vagues-submersion</span>
<svg class="abs" style="left:150px;top:630px" width="252" height="96" viewBox="150 630 252 96"><defs><clipPath id="bc0"><rect x="153.2" y="637.0" width="243.9" height="14.8" rx="4.8"/></clipPath><clipPath id="bc1"><rect x="153.2" y="659.1" width="243.9" height="14.7" rx="4.8"/></clipPath><clipPath id="bc2"><rect x="153.2" y="682.1" width="243.9" height="14.8" rx="4.8"/></clipPath><clipPath id="bc3"><rect x="153.2" y="704.1" width="243.9" height="14.9" rx="4.8"/></clipPath></defs><g clip-path="url(#bc0)"><rect x="153.2" y="0" width="243.9" height="800" fill="#fff600"/><rect x="213.95" y="0" width="81.00" height="800" fill="#ffb82b"/><rect x="375.95" y="0" width="22.15" height="800" fill="#31aa35"/></g><g clip-path="url(#bc1)"><rect x="153.2" y="0" width="243.9" height="800" fill="#fff600"/><rect x="274.70" y="0" width="123.40" height="800" fill="#31aa35"/></g><g clip-path="url(#bc2)"><rect x="153.2" y="0" width="243.9" height="800" fill="#fff600"/><rect x="305.07" y="0" width="93.03" height="800" fill="#31aa35"/></g><g clip-path="url(#bc3)"><rect x="153.2" y="0" width="243.9" height="800" fill="#fff600"/><rect x="153.20" y="0" width="40.50" height="800" fill="#31aa35"/><rect x="355.70" y="0" width="42.40" height="800" fill="#31aa35"/></g></svg>
<svg class="abs" style="left:21.15px;top:632.20px;overflow:visible" width="24" height="24" viewBox="-12 -12 24 24"><use href="#i-vent"/></svg>
<svg class="abs" style="left:20.90px;top:655.10px;overflow:visible" width="24" height="24" viewBox="-12 -12 24 24"><use href="#i-pluie"/></svg>
<svg class="abs" style="left:20.60px;top:677.20px;overflow:visible" width="24" height="24" viewBox="-12 -12 24 24"><use href="#i-orage"/></svg>
<svg class="abs" style="left:20.80px;top:699.40px;overflow:visible" width="24" height="24" viewBox="-12 -12 24 24"><use href="#i-vague"/></svg>
<svg class="abs" style="left:405.40px;top:632.50px;overflow:visible" width="24" height="24" viewBox="-12 -12 24 24"><use href="#i-eye"/></svg>
<svg class="abs" style="left:405.40px;top:654.50px;overflow:visible" width="24" height="24" viewBox="-12 -12 24 24"><use href="#i-eye"/></svg>
<svg class="abs" style="left:405.40px;top:677.20px;overflow:visible" width="24" height="24" viewBox="-12 -12 24 24"><use href="#i-eye"/></svg>
<svg class="abs" style="left:405.40px;top:699.30px;overflow:visible" width="24" height="24" viewBox="-12 -12 24 24"><use href="#i-eye"/></svg>
</div></body></html>
